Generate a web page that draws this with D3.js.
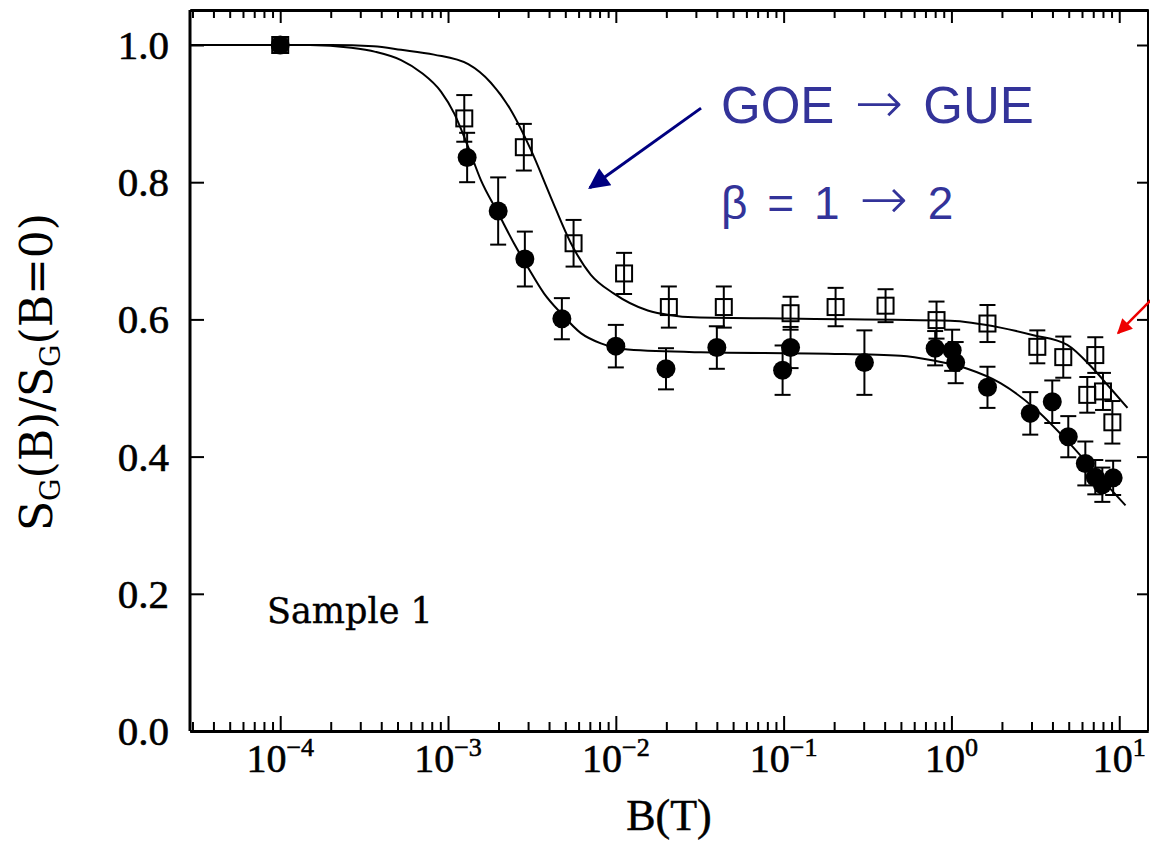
<!DOCTYPE html>
<html lang="en">
<head>
  <meta charset="UTF-8" />
  <title>SG(B)/SG(B=0) vs B</title>
  <style>
    body { margin: 0; background: #fff; }
    svg { display: block; }
  </style>
</head>
<body>
  <div id="chart"></div>

  <script src="https://d3js.org/d3.v7.min.js"></script>
  <script>
    // open squares
    const openB = [1e-4, 1.25e-3, 2.83e-3, 5.6e-3, 1.12e-2, 0.0207, 0.044, 0.110, 0.204, 0.405, 0.815, 1.64, 3.25, 4.64, 7.2, 6.45, 8.0, 9.1]
    const openV = [1.0, 0.893, 0.851, 0.711, 0.667, 0.618, 0.618, 0.609, 0.618, 0.620, 0.599, 0.594, 0.56, 0.545, 0.548, 0.49, 0.495, 0.45]
    const openErr = [0, 0.034, 0.034, 0.034, 0.03, 0.03, 0.03, 0.024, 0.028, 0.024, 0.027, 0.027, 0.024, 0.03, 0.026, 0.026, 0.027, 0.031]

    // filled circles
    const filledB = [1e-4, 1.3e-3, 1.99e-3, 2.87e-3, 4.77e-3, 0.01, 0.0199, 0.040, 0.0986, 0.110, 0.303, 0.80, 1.01, 1.06, 1.64, 2.95, 3.99, 4.97, 6.28, 7.2, 7.93, 9.2]
    const filledV = [1.0, 0.836, 0.758, 0.688, 0.601, 0.561, 0.528, 0.559, 0.526, 0.559, 0.537, 0.558, 0.555, 0.537, 0.501, 0.463, 0.48, 0.429, 0.39, 0.37, 0.359, 0.369]
    const filledErr = [0, 0.036, 0.049, 0.04, 0.03, 0.031, 0.03, 0.031, 0.036, 0.03, 0.047, 0.025, 0.03, 0.03, 0.03, 0.031, 0.031, 0.03, 0.032, 0.025, 0.025, 0.025]

    // fitted curves
    const upperFitB = [2.9e-5, 2.0e-4, 3.6e-4, 5.25e-4, 8.25e-4, 1.32e-3, 1.80e-3, 2.37e-3, 3.12e-3, 4.10e-3, 5.40e-3, 7.10e-3, 9.7e-3, 0.0155, 0.0212, 0.0291, 0.126, 0.986, 1.96, 3.08, 4.90, 7.00, 8.83, 11.2]
    const upperFitV = [1.0, 1.0, 0.998, 0.993, 0.986, 0.972, 0.945, 0.905, 0.847, 0.778, 0.711, 0.665, 0.638, 0.613, 0.606, 0.603, 0.601, 0.598, 0.588, 0.577, 0.563, 0.528, 0.50, 0.471]
    const lowerFitB = [2.9e-5, 1.5e-4, 2.65e-4, 3.7e-4, 5.25e-4, 6.91e-4, 9.08e-4, 1.09e-3, 1.32e-3, 1.57e-3, 1.99e-3, 2.47e-3, 2.99e-3, 3.73e-3, 4.71e-3, 6.19e-3, 8.15e-3, 0.0118, 0.0321, 0.183, 0.497, 0.781, 1.245, 1.96, 3.08, 4.90, 7.71, 10.9]
    const lowerFitV = [1.0, 1.0, 0.996, 0.99, 0.978, 0.960, 0.932, 0.90, 0.851, 0.803, 0.755, 0.711, 0.676, 0.638, 0.609, 0.580, 0.565, 0.556, 0.552, 0.550, 0.547, 0.540, 0.528, 0.507, 0.472, 0.423, 0.369, 0.329]

    // axes
    const xMajor = [1e-4, 1e-3, 1e-2, 1e-1, 1e0, 1e1]
    const xMajorExp = ["\u22124", "\u22123", "\u22122", "\u22121", "0", "1"]
    const yTicks = [0, 0.2, 0.4, 0.6, 0.8, 1.0]
    const yTickLabels = ["0.0", "0.2", "0.4", "0.6", "0.8", "1.0"]

    const width = 1150, height = 842
    const plotLeft = 190, plotRight = 1148, plotTop = 10, plotBottom = 731

    var x = d3.scaleLog()
      .domain([2.9e-5, 14.84])
      .range([plotLeft, plotRight])

    var y = d3.scaleLinear()
      .domain([0, 1])
      .range([plotBottom, 45])

    // minor log ticks 2..9 x 10^k inside domain
    var xMinor = []
    for (let e = -5; e <= 1; e++) {
      for (let k = 2; k <= 9; k++) {
        const v = k * Math.pow(10, e)
        if (v > x.domain()[0] && v < x.domain()[1]) xMinor.push(v)
      }
    }

    var svg = d3.select("#chart")
      .append("svg")
      .attr("width", width)
      .attr("height", height)

    var defs = svg.append("defs")
    defs.append("marker")
      .attr("id", "headBlue")
      .attr("viewBox", "0 0 10 10")
      .attr("refX", 9).attr("refY", 5)
      .attr("markerWidth", 8).attr("markerHeight", 7)
      .attr("markerUnits", "strokeWidth")
      .attr("orient", "auto")
      .append("path").attr("d", "M0,0 L10,5 L0,10 z").attr("fill", "#000080")
    defs.append("marker")
      .attr("id", "headRed")
      .attr("viewBox", "0 0 10 10")
      .attr("refX", 9).attr("refY", 5)
      .attr("markerWidth", 7).attr("markerHeight", 6)
      .attr("markerUnits", "strokeWidth")
      .attr("orient", "auto")
      .append("path").attr("d", "M0,0 L10,5 L0,10 z").attr("fill", "#ee0000")

    function styleAxis(g) {
      g.selectAll(".domain").attr("stroke", "#000").attr("stroke-width", 3)
      g.selectAll(".tick line").attr("stroke", "#000").attr("stroke-width", 2)
      g.selectAll(".tick text").remove()
    }

    // bottom
    svg.append("g").attr("transform", "translate(0," + plotBottom + ")")
      .call(d3.axisTop(x).tickValues(xMinor).tickSize(9).tickSizeOuter(0).tickFormat(""))
      .call(styleAxis)
    svg.append("g").attr("transform", "translate(0," + plotBottom + ")")
      .call(d3.axisTop(x).tickValues(xMajor).tickSize(15).tickSizeOuter(0).tickFormat(""))
      .call(styleAxis)
    // top
    svg.append("g").attr("transform", "translate(0," + plotTop + ")")
      .call(d3.axisBottom(x).tickValues(xMinor).tickSize(8).tickSizeOuter(0).tickFormat(""))
      .call(styleAxis)
    svg.append("g").attr("transform", "translate(0," + plotTop + ")")
      .call(d3.axisBottom(x).tickValues(xMajor).tickSize(13).tickSizeOuter(0).tickFormat(""))
      .call(styleAxis)

    // left / right frame
    svg.append("line").attr("x1", plotLeft).attr("x2", plotLeft).attr("y1", plotTop).attr("y2", plotBottom)
      .attr("stroke", "#000").attr("stroke-width", 3)
    svg.append("line").attr("x1", plotRight).attr("x2", plotRight).attr("y1", plotTop).attr("y2", plotBottom)
      .attr("stroke", "#000").attr("stroke-width", 2)
    svg.append("g").attr("transform", "translate(" + plotLeft + ",0)")
      .call(d3.axisRight(y).tickValues(yTicks).tickSize(14).tickSizeOuter(0).tickFormat(""))
      .call(styleAxis)
      .call(g => g.select(".domain").remove())
    svg.append("g").attr("transform", "translate(" + plotRight + ",0)")
      .call(d3.axisLeft(y).tickValues(yTicks).tickSize(11).tickSizeOuter(0).tickFormat(""))
      .call(styleAxis)
      .call(g => g.select(".domain").remove())

    // tick labels
    var xl = svg.append("g")
      .attr("font-family", "'Liberation Serif', serif")
      .attr("fill", "#000")
      .attr("stroke", "#000").attr("stroke-width", 0.6)
    xMajor.forEach(function (v, i) {
      var t = xl.append("text")
        .attr("x", x(v))
        .attr("y", 772)
        .attr("text-anchor", "middle")
        .attr("font-size", 40)
      t.append("tspan").text("10")
      t.append("tspan").attr("dy", -16).attr("font-size", 26).text(xMajorExp[i])
    })
    yTicks.forEach(function (v, i) {
      xl.append("text")
        .attr("x", 169)
        .attr("y", y(v) + 14)
        .attr("text-anchor", "end")
        .attr("font-size", 41)
        .text(yTickLabels[i])
    })

    // axis titles
    svg.append("text")
      .attr("x", 669).attr("y", 830)
      .attr("text-anchor", "middle")
      .attr("font-family", "'Liberation Serif', serif")
      .attr("font-size", 44)
      .attr("stroke", "#000").attr("stroke-width", 0.5)
      .text("B(T)")

    var yt = svg.append("text")
      .attr("transform", "translate(52,372) rotate(-90)")
      .attr("text-anchor", "middle")
      .attr("font-family", "'DejaVu Serif', serif")
      .attr("font-size", 44)
    yt.append("tspan").text("S")
    yt.append("tspan").attr("dy", 8).attr("font-size", 28).text("G")
    yt.append("tspan").attr("dy", -8).text("(B)/S")
    yt.append("tspan").attr("dy", 8).attr("font-size", 28).text("G")
    yt.append("tspan").attr("dy", -8).text("(B=0)")

    svg.append("text")
      .attr("x", 267).attr("y", 623)
      .attr("font-family", "'DejaVu Serif', serif")
      .attr("font-size", 35)
      .attr("stroke", "#000").attr("stroke-width", 0.4)
      .text("Sample 1")

    // fitted curves
    var line = d3.line()
      .x(d => x(d[0]))
      .y(d => y(d[1]))
      .curve(d3.curveMonotoneX)
    var plot = svg.append("g").attr("id", "plotarea")
    plot.append("path")
      .datum(d3.zip(upperFitB, upperFitV))
      .attr("d", line)
      .attr("fill", "none").attr("stroke", "#000").attr("stroke-width", 2)
    plot.append("path")
      .datum(d3.zip(lowerFitB, lowerFitV))
      .attr("d", line)
      .attr("fill", "none").attr("stroke", "#000").attr("stroke-width", 2)

    // error bars
    function errorBars(bs, vs, es) {
      var g = plot.append("g").attr("stroke", "#000").attr("stroke-width", 2)
      bs.forEach(function (b, i) {
        if (!es[i]) return
        var cx = x(b), y1 = y(vs[i] + es[i]), y2 = y(vs[i] - es[i])
        g.append("line").attr("x1", cx).attr("x2", cx).attr("y1", y1).attr("y2", y2)
        g.append("line").attr("x1", cx - 8).attr("x2", cx + 8).attr("y1", y1).attr("y2", y1)
        g.append("line").attr("x1", cx - 8).attr("x2", cx + 8).attr("y1", y2).attr("y2", y2)
      })
    }
    errorBars(openB, openV, openErr)
    errorBars(filledB, filledV, filledErr)

    var sq = 16
    plot.selectAll("rect.open")
      .data(d3.zip(openB, openV))
      .enter().append("rect")
      .attr("class", "open")
      .attr("x", d => x(d[0]) - sq / 2)
      .attr("y", d => y(d[1]) - sq / 2)
      .attr("width", sq).attr("height", sq)
      .attr("fill", "none").attr("stroke", "#000").attr("stroke-width", 2)

    plot.selectAll("circle")
      .data(d3.zip(filledB, filledV))
      .enter().append("circle")
      .attr("cx", d => x(d[0]))
      .attr("cy", d => y(d[1]))
      .attr("r", 9.5)
      .attr("fill", "#000")

    // annotations
    svg.append("line")
      .attr("x1", x(0.0322)).attr("y1", y(0.908))
      .attr("x2", x(7.0e-3)).attr("y2", y(0.792))
      .attr("stroke", "#000080").attr("stroke-width", 3)
      .attr("marker-end", "url(#headBlue)")
    svg.append("line")
      .attr("x1", x(15.7)).attr("y1", y(0.63))
      .attr("x2", x(9.84)).attr("y2", y(0.58))
      .attr("stroke", "#ee0000").attr("stroke-width", 2.5)
      .attr("marker-end", "url(#headRed)")

    var a1 = svg.append("text")
      .attr("x", 721).attr("y", 123)
      .attr("font-family", "'Liberation Sans', Arial, sans-serif")
      .attr("font-size", 51)
      .attr("word-spacing", 6)
      .attr("fill", "#333399")
    a1.append("tspan").text("GOE ")
    a1.append("tspan").attr("font-family", "'DejaVu Sans', sans-serif").attr("font-weight", 200).attr("font-size", 58).text("\u2192")
    a1.append("tspan").text(" GUE")

    var a2 = svg.append("text")
      .attr("x", 721).attr("y", 219)
      .attr("font-family", "'Liberation Sans', Arial, sans-serif")
      .attr("font-size", 46)
      .attr("word-spacing", 7)
      .attr("fill", "#333399")
    a2.append("tspan").text("\u03b2 = 1 ")
    a2.append("tspan").attr("font-family", "'DejaVu Sans', sans-serif").attr("font-weight", 200).attr("font-size", 58).text("\u2192")
    a2.append("tspan").text(" 2")
  </script>
</body>
</html>
